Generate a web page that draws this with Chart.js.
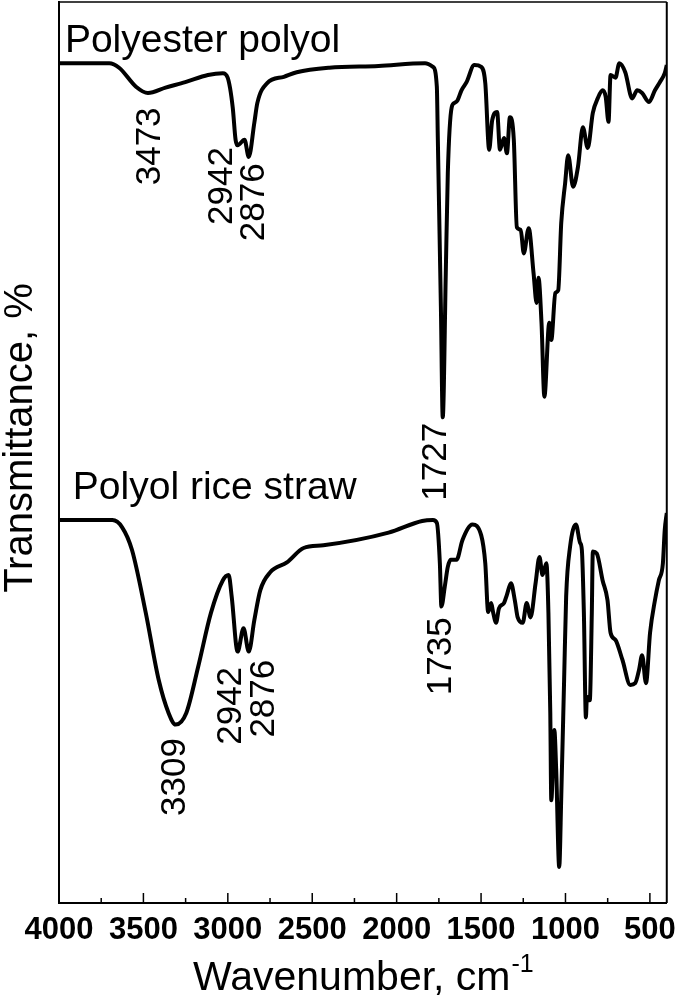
<!DOCTYPE html>
<html>
<head>
<meta charset="utf-8">
<script src="https://cdn.jsdelivr.net/npm/chart.js@4.4.1/dist/chart.umd.min.js"></script>
<style>
html, body { margin: 0; padding: 0; background: #fff; }
</style>
</head>
<body>
<canvas id="ftirChart" width="685" height="1005"></canvas>
<script>
// FTIR spectra, wavenumber (cm-1) vs transmittance (arbitrary %)
const polyesterWn = [4000, 3702, 3644, 3544, 3473, 3369, 3252, 3118, 3030, 3001, 2971, 2954, 2942, 2901, 2876, 2843, 2825, 2767, 2668, 2592, 2399, 2107, 1832, 1785, 1762, 1756, 1738, 1727, 1709, 1697, 1674, 1657, 1639, 1616, 1586, 1540, 1499, 1475, 1452, 1434, 1405, 1388, 1364, 1347, 1329, 1306, 1288, 1265, 1247, 1218, 1189, 1171, 1160, 1142, 1125, 1096, 1084, 1060, 1043, 1025, 1002, 984, 955, 926, 897, 868, 838, 809, 780, 762, 745, 733, 704, 681, 646, 605, 575, 546, 505, 470, 441, 412, 400];
const polyesterT = [93.2, 93.2, 92.7, 90.6, 89.9, 90.5, 91.1, 91.9, 92.1, 91.6, 88.3, 84.7, 84.1, 84.7, 82.8, 86.6, 88.8, 91.0, 91.7, 92.2, 92.7, 92.9, 93.2, 92.8, 90.6, 84.7, 66.2, 53.9, 69.9, 81.0, 88.3, 88.8, 89.1, 90.2, 91.1, 93.0, 92.8, 91.0, 83.6, 86.9, 87.8, 83.6, 84.9, 83.2, 87.2, 84.7, 75.0, 74.7, 72.1, 74.9, 69.9, 66.6, 69.4, 64.4, 56.2, 64.4, 62.5, 67.7, 68.0, 75.5, 79.9, 83.0, 79.5, 81.7, 86.1, 83.8, 87.7, 89.3, 90.2, 89.5, 86.7, 91.9, 91.6, 93.2, 92.2, 89.3, 90.2, 89.9, 88.9, 90.2, 91.1, 92.1, 93.0];

const riceWn = [4000, 3684, 3626, 3568, 3486, 3410, 3351, 3309, 3246, 3176, 3100, 3030, 2995, 2977, 2942, 2907, 2876, 2843, 2808, 2749, 2650, 2551, 2434, 2048, 1849, 1785, 1762, 1744, 1735, 1715, 1697, 1680, 1645, 1610, 1551, 1499, 1475, 1458, 1440, 1429, 1411, 1394, 1364, 1347, 1323, 1300, 1283, 1253, 1230, 1207, 1177, 1154, 1136, 1113, 1101, 1090, 1084, 1066, 1055, 1037, 1025, 1008, 996, 973, 938, 914, 903, 891, 879, 873, 856, 844, 838, 815, 780, 751, 733, 704, 663, 616, 587, 564, 546, 523, 499, 470, 447, 423, 412, 400];
const riceT = [42.5, 42.5, 41.7, 39.2, 32.2, 24.8, 21.1, 19.8, 21.1, 26.2, 32.2, 35.8, 36.4, 34.0, 27.9, 30.5, 27.9, 31.4, 34.7, 36.7, 37.8, 39.4, 39.7, 41.1, 42.4, 42.5, 42.2, 37.7, 32.9, 35.1, 37.3, 38.1, 38.1, 40.3, 42.0, 40.8, 37.7, 32.3, 33.3, 32.3, 31.1, 32.7, 33.3, 34.2, 35.5, 33.6, 31.7, 31.1, 33.3, 31.7, 35.5, 38.4, 36.4, 37.7, 32.2, 21.1, 11.4, 19.2, 14.8, 4.0, 11.8, 24.8, 34.0, 39.5, 42.0, 40.0, 39.2, 32.2, 20.6, 22.9, 22.5, 32.2, 39.0, 38.8, 35.8, 33.6, 30.0, 29.2, 27.0, 24.2, 24.4, 25.9, 27.5, 24.4, 30.0, 33.6, 35.8, 37.7, 41.4, 43.3];

const xTickValues = [4000, 3500, 3000, 2500, 2000, 1500, 1000, 500];
const xMinorTicks = [3750, 3250, 2750, 2250, 1750, 1250, 750];

// peak labels: text, wavenumber and transmittance where the label starts
const peakText = ['3473', '2942', '2876', '1727', '3309', '2942', '2876', '1735'];
const peakLabelWn = [3457, 3030, 2843, 1762, 3310, 2977, 2785, 1733];
const peakLabelT = [88.3, 83.9, 82.1, 53.3, 18.3, 26.2, 27.0, 31.7];

const seriesNames = ['Polyester polyol', 'Polyol rice straw'];

const fontFamily = "'Liberation Sans', Arial, sans-serif";

function toPoints(xs, ys) {
	return xs.map((x, i) => ({x: x, y: ys[i]}));
}

let ftirPlugin = {
	id: 'ftirExtras',
	afterDraw(chart) {
		let ctx = chart.ctx;
		let area = chart.chartArea;
		let xs = chart.scales.x;
		let ys = chart.scales.y;
		ctx.save();

		// top and right frame lines
		ctx.strokeStyle = '#000';
		ctx.lineWidth = 1.5;
		ctx.beginPath();
		ctx.moveTo(area.left, area.top);
		ctx.lineTo(area.right, area.top);
		ctx.stroke();
		ctx.lineWidth = 2;
		ctx.beginPath();
		ctx.moveTo(area.right, area.top);
		ctx.lineTo(area.right, area.bottom);
		ctx.stroke();

		// inward ticks on the x axis
		ctx.lineWidth = 1.5;
		xTickValues.forEach(v => {
			let px = xs.getPixelForValue(v);
			ctx.beginPath();
			ctx.moveTo(px, area.bottom);
			ctx.lineTo(px, area.bottom - 10);
			ctx.stroke();
		});
		xMinorTicks.forEach(v => {
			let px = xs.getPixelForValue(v);
			ctx.beginPath();
			ctx.moveTo(px, area.bottom);
			ctx.lineTo(px, area.bottom - 5);
			ctx.stroke();
		});

		// series names
		ctx.fillStyle = '#000';
		ctx.font = '39px ' + fontFamily;
		ctx.textAlign = 'left';
		ctx.textBaseline = 'middle';
		ctx.fillText(seriesNames[0], xs.getPixelForValue(3965), ys.getPixelForValue(95.6));
		ctx.fillText(seriesNames[1], xs.getPixelForValue(3918), ys.getPixelForValue(46.0));

		// rotated peak labels
		ctx.font = '35px ' + fontFamily;
		ctx.textAlign = 'right';
		peakText.forEach((t, i) => {
			ctx.save();
			ctx.translate(xs.getPixelForValue(peakLabelWn[i]), ys.getPixelForValue(peakLabelT[i]));
			ctx.rotate(-Math.PI / 2);
			ctx.fillText(t, 0, 0);
			ctx.restore();
		});

		// y axis title
		ctx.save();
		ctx.font = '40px ' + fontFamily;
		ctx.textAlign = 'center';
		ctx.textBaseline = 'middle';
		ctx.translate(21, 438);
		ctx.rotate(-Math.PI / 2);
		ctx.fillText('Transmittance, %', 0, 0);
		ctx.restore();

		// x axis title with superscript
		let mainText = 'Wavenumber, cm';
		let supText = '-1';
		ctx.textAlign = 'left';
		ctx.textBaseline = 'alphabetic';
		ctx.font = '41px ' + fontFamily;
		let w1 = ctx.measureText(mainText).width;
		ctx.font = '25px ' + fontFamily;
		let w2 = ctx.measureText(supText).width;
		let startX = (area.left + area.right) / 2 - (w1 + w2) / 2;
		let baseY = 990;
		ctx.font = '41px ' + fontFamily;
		ctx.fillText(mainText, startX, baseY);
		ctx.font = '25px ' + fontFamily;
		ctx.fillText(supText, startX + w1 + 1, baseY - 18);

		ctx.restore();
	}
};

let ftirChart = new Chart(document.getElementById('ftirChart').getContext('2d'), {
	type: 'line',
	data: {
		datasets: [
			{
				label: seriesNames[0],
				data: toPoints(polyesterWn, polyesterT),
				borderColor: '#000',
				borderWidth: 4,
				pointRadius: 0,
				cubicInterpolationMode: 'monotone',
				fill: false
			},
			{
				label: seriesNames[1],
				data: toPoints(riceWn, riceT),
				borderColor: '#000',
				borderWidth: 4,
				pointRadius: 0,
				cubicInterpolationMode: 'monotone',
				fill: false
			}
		]
	},
	options: {
		responsive: false,
		animation: false,
		layout: {
			padding: {top: 2, right: 9, bottom: 0, left: 0}
		},
		plugins: {
			legend: {display: false},
			tooltip: {enabled: false}
		},
		scales: {
			x: {
				type: 'linear',
				reverse: true,
				min: 400,
				max: 4000,
				afterBuildTicks: (scale) => {
					scale.ticks = xTickValues.map(v => ({value: v}));
				},
				afterFit: (scale) => {
					scale.height = 102;
				},
				grid: {display: false, drawTicks: false},
				border: {display: true, color: '#000', width: 2},
				ticks: {
					color: '#000',
					padding: 9,
					maxRotation: 0,
					autoSkip: false,
					callback: (value) => String(value),
					font: {family: fontFamily, size: 31, weight: 'bold'}
				}
			},
			y: {
				min: 0,
				max: 100,
				afterFit: (scale) => {
					scale.width = 59;
				},
				grid: {display: false, drawTicks: false},
				border: {display: true, color: '#000', width: 2},
				ticks: {display: false}
			}
		}
	},
	plugins: [ftirPlugin]
});
</script>
</body>
</html>
